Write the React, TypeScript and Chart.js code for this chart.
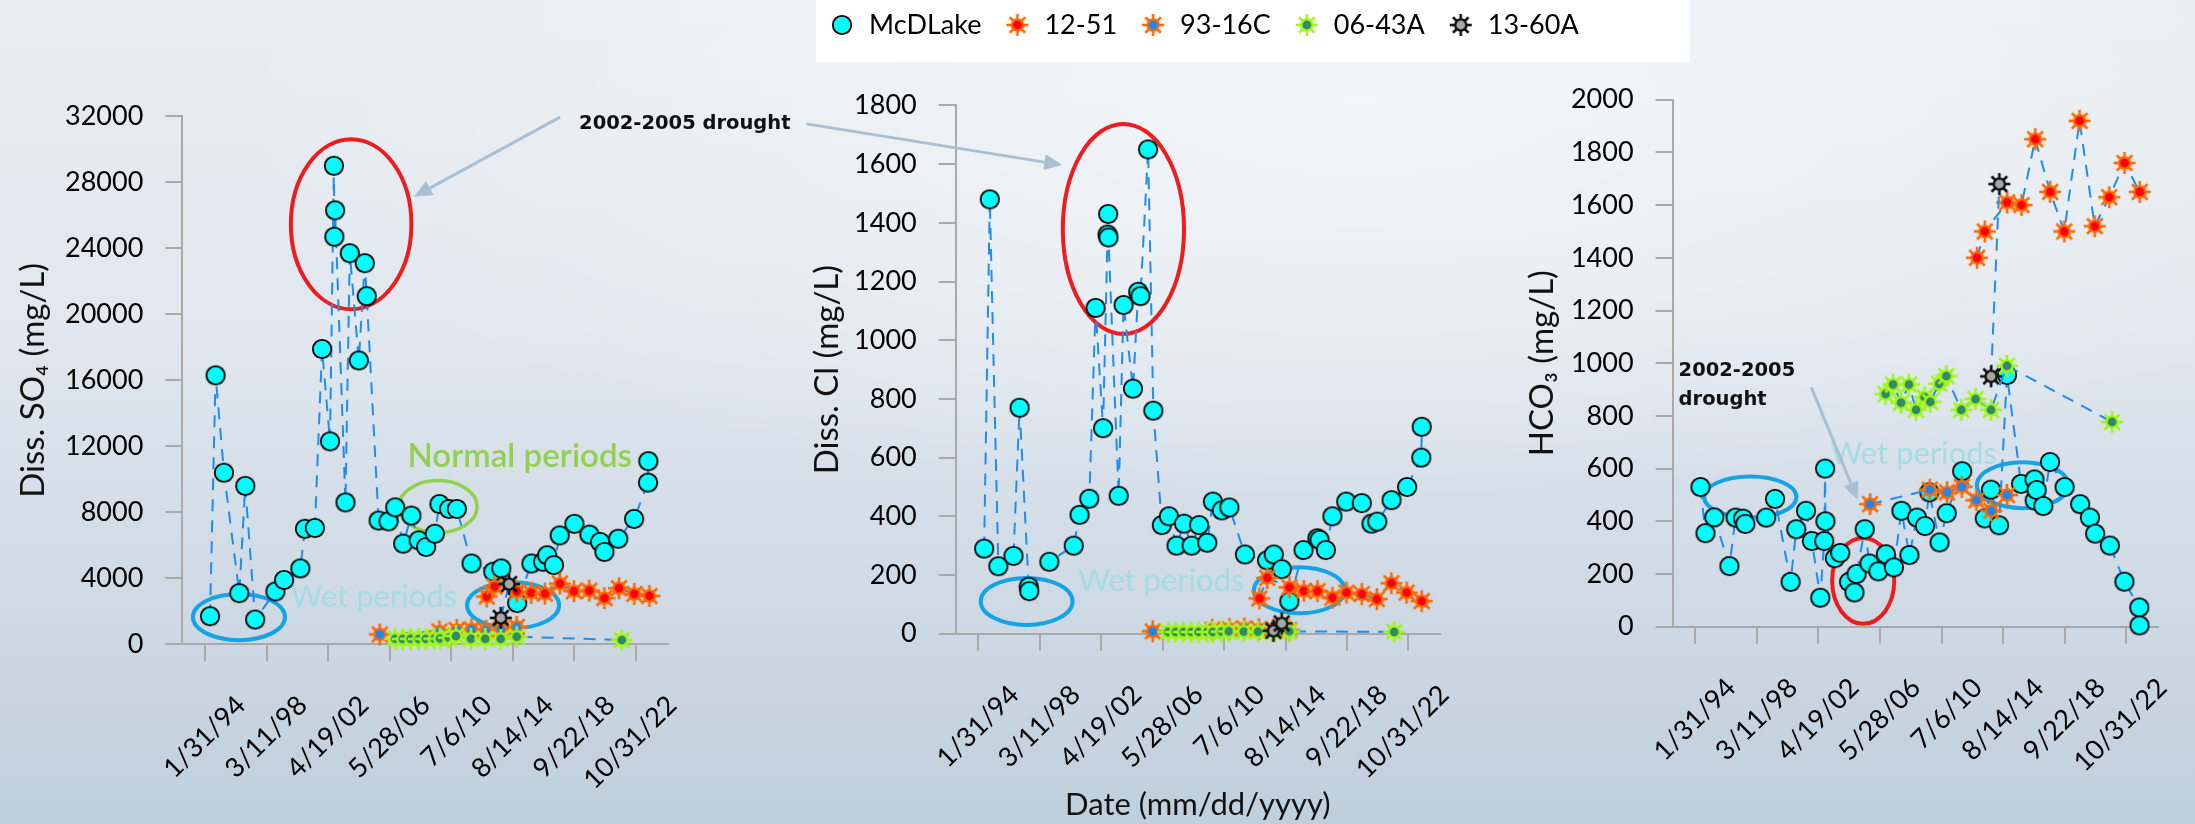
import React, { useEffect, useRef } from 'react';
import { Chart, registerables } from 'chart.js';

Chart.register(...registerables);

const W = 2195;
const H = 824;

// ---------- date axis (ticks every 1500 days) ----------
const dateTickLabels = ['1/31/94', '3/11/98', '4/19/02', '5/28/06', '7/6/10', '8/14/14', '9/22/18', '10/31/22'];
const dateTickYears = [1994.082, 1998.189, 2002.296, 2006.403, 2010.509, 2014.616, 2018.723, 2022.83];
const dateMin = 1992.57;
const dateMax = 2024.94;

// ---------- McDLake samples (decimal year / concentration) ----------
const so4Dates = [1994.42, 1994.79, 1995.35, 1996.37, 1996.77, 1997.43, 1998.78, 1999.36, 2000.44, 2000.75, 2001.41, 2001.89, 2002.42, 2002.68, 2002.71, 2002.76, 2003.45, 2003.74, 2004.34, 2004.74, 2004.87, 2005.66, 2006.32, 2006.77, 2007.3, 2007.85, 2008.33, 2008.83, 2009.41, 2009.72, 2010.36, 2010.88, 2011.86, 2013.31, 2013.84, 2014.9, 2015.85, 2016.63, 2016.9, 2017.35, 2017.74, 2018.72, 2019.72, 2020.43, 2020.72, 2021.64, 2022.7, 2023.63, 2023.65];
const so4McDLake = [1700, 16300, 10400, 3100, 9600, 1500, 3200, 3900, 4600, 7000, 7050, 17900, 12300, 29000, 24700, 26300, 8600, 23700, 17200, 23100, 21100, 7500, 7450, 8300, 6100, 7800, 6300, 5900, 6700, 8500, 8200, 8200, 4900, 4400, 4600, 2500, 4900, 5000, 5400, 4800, 6600, 7300, 6650, 6200, 5600, 6400, 7600, 9800, 11100];

const clDates = [1994.47, 1994.85, 1995.42, 1996.43, 1996.84, 1997.45, 1997.49, 1998.83, 2000.46, 2000.85, 2001.5, 2001.92, 2002.42, 2002.72, 2002.76, 2002.78, 2003.46, 2003.79, 2004.42, 2004.77, 2004.92, 2005.43, 2005.78, 2006.35, 2006.82, 2007.33, 2007.83, 2008.34, 2008.84, 2009.38, 2009.76, 2010.36, 2010.86, 2011.9, 2013.38, 2013.83, 2014.36, 2014.87, 2015.82, 2016.74, 2016.89, 2017.31, 2017.75, 2018.67, 2019.71, 2020.36, 2020.75, 2021.7, 2022.74, 2023.69, 2023.72];
const clMcDLake = [290, 1480, 230, 265, 770, 160, 145, 245, 300, 405, 460, 1110, 700, 1360, 1430, 1350, 470, 1120, 835, 1165, 1150, 1650, 760, 370, 400, 300, 375, 300, 370, 310, 450, 420, 430, 270, 250, 270, 220, 110, 285, 325, 320, 285, 400, 450, 445, 375, 382, 455, 500, 600, 705];

const hco3Dates = [1994.43, 1994.76, 1995.35, 1996.36, 1996.77, 1997.27, 1997.42, 1998.81, 1999.4, 2000.44, 2000.82, 2001.47, 2001.86, 2002.42, 2002.68, 2002.74, 2002.76, 2003.39, 2003.75, 2004.34, 2004.7, 2004.84, 2005.38, 2005.7, 2006.29, 2006.79, 2007.33, 2007.83, 2008.36, 2008.87, 2009.4, 2009.69, 2010.37, 2010.85, 2011.88, 2013.39, 2013.8, 2014.34, 2014.87, 2015.81, 2016.7, 2016.72, 2016.85, 2017.29, 2017.74, 2018.71, 2019.75, 2020.4, 2020.75, 2021.73, 2022.7, 2023.69, 2023.71];
const hco3McDLake = [530, 355, 415, 230, 414, 410, 390, 414, 485, 170, 370, 440, 325, 110, 325, 600, 400, 260, 280, 170, 130, 200, 370, 240, 210, 275, 225, 440, 272, 414, 382, 510, 320, 431, 590, 411, 520, 385, 955, 542, 559, 479, 519, 458, 625, 530, 465, 414, 353, 308, 171, 73, 5];

// ---------- well samples ----------
const well1251Dates = [2012.87, 2013.39, 2014.88, 2015.84, 2016.75, 2017.75, 2018.69, 2019.71, 2020.72, 2021.69, 2022.71, 2023.72];
const so4Well1251 = [2900, 3500, 3200, 3120, 3070, 3680, 3220, 3250, 2800, 3400, 3050, 2930];
const clWell1251 = [120, 190, 158, 146, 145, 123, 140, 135, 118, 172, 140, 111];
const hco3Well1251 = [1400, 1500, 1610, 1600, 1850, 1650, 1500, 1920, 1520, 1630, 1760, 1650];

const well9316Dates = [2005.74, 2009.72, 2010.87, 2011.86, 2012.83, 2013.82, 2014.87];
const so4Well9316 = [600, 780, 870, 900, 830, 900, 1050];
const clWell9316 = [8, 14, 16, 18, 15, 15, 12];
const hco3Well9316 = [465, 520, 510, 531, 480, 440, 500];

const well0643Dates = [2006.77, 2007.27, 2007.8, 2008.33, 2008.81, 2009.37, 2009.75, 2010.34, 2010.82, 2011.82, 2012.77, 2013.8, 2014.87, 2021.88];
const so4Well0643 = [330, 320, 330, 320, 330, 340, 350, 400, 500, 330, 330, 330, 460, 260];
const clWell0643 = [6, 6, 6, 6, 6, 6, 6, 7, 8, 7, 7, 6, 8, 6];
const hco3Well0643 = [883, 919, 850, 919, 823, 871, 853, 922, 951, 823, 864, 823, 990, 777];

const well1360Dates = [2013.81, 2014.36];
const so4Well1360 = [1600, 3650];
const clWell1360 = [10, 35];
const hco3Well1360 = [950, 1680];

// ---------- styling ----------
const FONT = 'Lato';
const LINE_BLUE = '#1f8df0';
const AXIS_GREY = '#a9a9a9';
const RING_RED = '#ee1c1c';
const RING_BLUE = '#14a4e6';
const RING_GREEN = '#92d050';
const PALE_TEAL = 'rgba(160,220,226,0.9)';
const ARROW_GREY = '#a9c0d3';
const BOLD_NOTE = 'bold 19.5px "DejaVu Sans"';
const SOFT_NOTE = '31px Lato';
const NORMAL_NOTE = '600 33px Lato';

type Ellipse = { x: number; y: number; rx: number; ry: number; color: string; width: number };
type Caption = { text: string; x: number; y: number; color: string; font: string; over?: boolean };
type Arrow = { x1: number; y1: number; x2: number; y2: number };
type Notes = { ellipses: Ellipse[]; captions: Caption[]; arrows: Arrow[] };

let markerCache: any = null;
function markers() {
  if (markerCache) return markerCache;
  const circle = document.createElement('canvas');
  circle.width = 22;
  circle.height = 22;
  const c = circle.getContext('2d')!;
  c.beginPath();
  c.arc(11, 11, 9.2, 0, Math.PI * 2);
  c.fillStyle = '#00ffff';
  c.fill();
  c.lineWidth = 1.8;
  c.strokeStyle = '#000';
  c.stroke();

  const star = (ray: string, core: string) => {
    const cv = document.createElement('canvas');
    cv.width = 26;
    cv.height = 26;
    const g = cv.getContext('2d')!;
    g.translate(13, 13);
    g.strokeStyle = ray;
    g.lineWidth = 2.6;
    for (let k = 0; k < 8; k++) {
      const a = (k * Math.PI) / 4;
      g.beginPath();
      g.moveTo(0, 0);
      g.lineTo(Math.cos(a) * 11, Math.sin(a) * 11);
      g.stroke();
    }
    g.beginPath();
    g.arc(0, 0, 6.8, 0, Math.PI * 2);
    g.fillStyle = ray;
    g.fill();
    g.beginPath();
    g.arc(0, 0, 4.4, 0, Math.PI * 2);
    g.fillStyle = core;
    g.fill();
    return cv;
  };
  markerCache = {
    mcd: circle,
    w1251: star('#ff6a00', '#ff0000'),
    w9316: star('#ff6a00', '#1f86f0'),
    w0643: star('#a2f51c', '#2e8b63'),
    w1360: star('#111111', '#a6a6a6'),
  };
  return markerCache;
}

function drawNotes(chart: any, notes: Notes, over: boolean) {
  const { ctx } = chart;
  const xs = chart.scales.x;
  const ys = chart.scales.y;
  const px = (v: number) => xs.getPixelForValue(v);
  const py = (v: number) => ys.getPixelForValue(v);
  ctx.save();
  if (!over) {
    for (const e of notes.ellipses) {
      const cx = px(e.x);
      const cy = py(e.y);
      const rx = Math.abs(px(e.x + e.rx) - cx);
      const ry = Math.abs(py(e.y + e.ry) - cy);
      ctx.beginPath();
      ctx.ellipse(cx, cy, rx, ry, 0, 0, Math.PI * 2);
      ctx.lineWidth = e.width;
      ctx.strokeStyle = e.color;
      ctx.stroke();
    }
  } else {
    for (const a of notes.arrows) {
      const x1 = px(a.x1), y1 = py(a.y1), x2 = px(a.x2), y2 = py(a.y2);
      const ang = Math.atan2(y2 - y1, x2 - x1);
      const head = 18, half = 8;
      const bx = x2 - head * Math.cos(ang);
      const by = y2 - head * Math.sin(ang);
      ctx.strokeStyle = ARROW_GREY;
      ctx.fillStyle = ARROW_GREY;
      ctx.lineWidth = 3;
      ctx.beginPath();
      ctx.moveTo(x1, y1);
      ctx.lineTo(bx, by);
      ctx.stroke();
      ctx.beginPath();
      ctx.moveTo(x2, y2);
      ctx.lineTo(bx + half * Math.sin(ang), by - half * Math.cos(ang));
      ctx.lineTo(bx - half * Math.sin(ang), by + half * Math.cos(ang));
      ctx.closePath();
      ctx.fill();
    }
  }
  for (const t of notes.captions) {
    if (!!t.over !== over) continue;
    ctx.font = t.font;
    ctx.fillStyle = t.color;
    ctx.textAlign = 'left';
    ctx.textBaseline = 'middle';
    ctx.fillText(t.text, px(t.x), py(t.y));
  }
  ctx.restore();
}

function notesPlugin(notes: Notes) {
  return {
    id: 'panelNotes',
    beforeDatasetsDraw(chart: any) {
      drawNotes(chart, notes, false);
    },
    afterDatasetsDraw(chart: any) {
      drawNotes(chart, notes, true);
    },
  };
}

type PanelSpec = {
  yTitle: string;
  yMax: number;
  yStep: number;
  mcdDates: number[];
  mcdValues: number[];
  v1251: number[];
  v9316: number[];
  v0643: number[];
  v1360: number[];
  frameLeft: number;
  area: { left: number; right: number; top: number; bottom: number };
  yTitleCenter: number;
  xTitle?: string;
  notes: Notes;
};

const pairs = (xs: number[], ys: number[]) => xs.map((x, i) => ({ x, y: ys[i] }));

const panels: PanelSpec[] = [
  {
    yTitle: 'Diss. SO\u2084 (mg/L)',
    yMax: 32000,
    yStep: 4000,
    mcdDates: so4Dates,
    mcdValues: so4McDLake,
    v1251: so4Well1251,
    v9316: so4Well9316,
    v0643: so4Well0643,
    v1360: so4Well1360,
    frameLeft: 0,
    area: { left: 182.3, right: 667.7, top: 116.3, bottom: 644.3 },
    yTitleCenter: 33.6,
    notes: {
      ellipses: [
        { x: 2003.83, y: 25460, rx: 4.02, ry: 5150, color: RING_RED, width: 4 },
        { x: 1996.35, y: 1650, rx: 3.07, ry: 1400, color: RING_BLUE, width: 4 },
        { x: 2014.63, y: 2370, rx: 3.07, ry: 1394, color: RING_BLUE, width: 4 },
        { x: 2009.62, y: 8343, rx: 2.61, ry: 1580, color: RING_GREEN, width: 3.5 },
      ],
      captions: [
        { text: 'Wet periods', x: 1999.79, y: 2890, color: PALE_TEAL, font: SOFT_NOTE },
        { text: 'Normal periods', x: 2007.59, y: 11364, color: RING_GREEN, font: NORMAL_NOTE },
        { text: '2002-2005 drought', x: 2019.03, y: 31533, color: '#111', font: BOLD_NOTE, over: true },
      ],
      arrows: [{ x1: 2017.76, y1: 31952, x2: 2008.02, y2: 27127 }],
    },
  },
  {
    yTitle: 'Diss. Cl (mg/L)',
    yMax: 1800,
    yStep: 200,
    mcdDates: clDates,
    mcdValues: clMcDLake,
    v1251: clWell1251,
    v9316: clWell9316,
    v0643: clWell0643,
    v1360: clWell1360,
    frameLeft: 780,
    area: { left: 955.7, right: 1440, top: 105.4, bottom: 633.7 },
    yTitleCenter: 827,
    xTitle: 'Date (mm/dd/yyyy)',
    notes: {
      ellipses: [
        { x: 2003.78, y: 1379, rx: 4.05, ry: 358, color: RING_RED, width: 4 },
        { x: 1997.31, y: 110, rx: 3.07, ry: 80, color: RING_BLUE, width: 4 },
        { x: 2015.54, y: 148, rx: 3.04, ry: 78.5, color: RING_BLUE, width: 4 },
      ],
      captions: [{ text: 'Wet periods', x: 2000.74, y: 180, color: PALE_TEAL, font: SOFT_NOTE }],
      arrows: [{ x1: 1982.6, y1: 1737, x2: 1999.69, y2: 1597 }],
    },
  },
  {
    yTitle: 'HCO\u2083 (mg/L)',
    yMax: 2000,
    yStep: 200,
    mcdDates: hco3Dates,
    mcdValues: hco3McDLake,
    v1251: hco3Well1251,
    v9316: hco3Well9316,
    v0643: hco3Well0643,
    v1360: hco3Well1360,
    frameLeft: 1500,
    area: { left: 1672.6, right: 2158, top: 99.7, bottom: 626.7 },
    yTitleCenter: 1542,
    notes: {
      ellipses: [
        { x: 1997.75, y: 492, rx: 3.08, ry: 78, color: RING_BLUE, width: 4 },
        { x: 2005.28, y: 174, rx: 2.07, ry: 163, color: RING_RED, width: 4 },
        { x: 2015.92, y: 537, rx: 3.06, ry: 87, color: RING_BLUE, width: 4 },
      ],
      captions: [
        { text: 'Wet periods', x: 2003.1, y: 654, color: PALE_TEAL, font: SOFT_NOTE },
        { text: '2002-2005', x: 1992.97, y: 970, color: '#111', font: BOLD_NOTE, over: true },
        { text: 'drought', x: 1992.97, y: 860, color: '#111', font: BOLD_NOTE, over: true },
      ],
      arrows: [{ x1: 2001.82, y1: 908, x2: 2004.92, y2: 481 }],
    },
  },
];

function buildConfig(spec: PanelSpec): any {
  const m = markers();
  const line = {
    showLine: true,
    borderColor: LINE_BLUE,
    borderWidth: 2,
    borderDash: [12, 9],
    backgroundColor: 'transparent',
    clip: false,
    pointRadius: 9,
    tension: 0,
  };
  const datasets = [
    { label: 'McDLake', data: pairs(spec.mcdDates, spec.mcdValues), pointStyle: m.mcd, order: 5, ...line },
    { label: '12-51', data: pairs(well1251Dates, spec.v1251), pointStyle: m.w1251, order: 4, ...line },
    { label: '93-16C', data: pairs(well9316Dates, spec.v9316), pointStyle: m.w9316, order: 3, ...line },
    { label: '06-43A', data: pairs(well0643Dates, spec.v0643), pointStyle: m.w0643, order: 2, ...line },
    { label: '13-60A', data: pairs(well1360Dates, spec.v1360), pointStyle: m.w1360, order: 1, ...line },
  ];
  const a = spec.area;
  const tickFont = { family: FONT, size: 27 };
  const titleFontSize = 33;
  return {
    type: 'scatter',
    data: { datasets },
    options: {
      responsive: false,
      maintainAspectRatio: false,
      animation: false,
      devicePixelRatio: 1,
      events: [],
      layout: { padding: { left: spec.frameLeft, right: W - a.right, top: a.top, bottom: 0 } },
      plugins: { legend: { display: false }, tooltip: { enabled: false } },
      scales: {
        x: {
          type: 'linear',
          min: dateMin,
          max: dateMax,
          afterBuildTicks: (s: any) => {
            s.ticks = dateTickYears.map((v) => ({ value: v }));
          },
          afterFit: (s: any) => {
            s.height = H - a.bottom;
          },
          ticks: {
            autoSkip: false,
            minRotation: 45,
            maxRotation: 45,
            labelOffset: 36,
            padding: 28,
            font: tickFont,
            color: '#000',
            callback: (_v: any, i: number) => dateTickLabels[i],
          },
          grid: { drawOnChartArea: false, drawTicks: true, tickLength: 17, color: AXIS_GREY, lineWidth: 2 },
          border: { display: true, color: AXIS_GREY, width: 2 },
          title: spec.xTitle
            ? { display: true, text: spec.xTitle, font: { family: FONT, size: 31 }, color: '#111', padding: { top: 0, bottom: 0 } }
            : { display: false },
        },
        y: {
          min: 0,
          max: spec.yMax,
          afterFit: (s: any) => {
            s.width = a.left - spec.frameLeft;
          },
          ticks: {
            stepSize: spec.yStep,
            padding: 22,
            font: tickFont,
            color: '#000',
            callback: (v: any) => String(v),
          },
          grid: { drawOnChartArea: false, drawTicks: true, tickLength: 17, color: AXIS_GREY, lineWidth: 2 },
          border: { display: true, color: AXIS_GREY, width: 2 },
          title: {
            display: true,
            text: spec.yTitle,
            font: { family: FONT, size: titleFontSize },
            color: '#111',
            padding: { top: spec.yTitleCenter - spec.frameLeft - (titleFontSize * 1.2) / 2, bottom: 0 },
          },
        },
      },
    },
    plugins: [notesPlugin(spec.notes)],
  };
}

function Panel({ spec }: { spec: PanelSpec }) {
  const ref = useRef<HTMLCanvasElement>(null);
  useEffect(() => {
    const chart = new Chart(ref.current as HTMLCanvasElement, buildConfig(spec));
    return () => chart.destroy();
  }, [spec]);
  return (
    <canvas
      ref={ref}
      width={W}
      height={H}
      style={{ position: 'absolute', left: 0, top: 0, width: W, height: H }}
    />
  );
}

function LegendStrip() {
  const ref = useRef<HTMLCanvasElement>(null);
  useEffect(() => {
    const m = markers();
    const entries: [string, HTMLCanvasElement][] = [
      ['McDLake', m.mcd],
      ['12-51', m.w1251],
      ['93-16C', m.w9316],
      ['06-43A', m.w0643],
      ['13-60A', m.w1360],
    ];
    const chart = new Chart(ref.current as HTMLCanvasElement, {
      type: 'scatter',
      data: { datasets: [] },
      options: {
        responsive: false,
        animation: false,
        devicePixelRatio: 1,
        events: [],
        scales: { x: { display: false }, y: { display: false } },
        plugins: {
          tooltip: { enabled: false },
          legend: {
            display: true,
            position: 'top',
            align: 'start',
            labels: {
              usePointStyle: true,
              boxWidth: 27,
              padding: 22.5,
              color: '#000',
              font: { family: FONT, size: 27 },
              generateLabels: () =>
                entries.map(([text, img], i) => ({
                  text,
                  pointStyle: img,
                  fillStyle: 'rgba(0,0,0,0)',
                  strokeStyle: 'rgba(0,0,0,0)',
                  lineWidth: 0,
                  hidden: false,
                  datasetIndex: i,
                })),
            },
          },
        },
      } as any,
    });
    return () => chart.destroy();
  }, []);
  return (
    <div style={{ position: 'absolute', left: 816, top: 0, width: 874, height: 62, background: '#ffffff', overflow: 'hidden' }}>
      <canvas ref={ref} width={900} height={200} style={{ position: 'absolute', left: -10, top: -11, width: 900, height: 200 }} />
    </div>
  );
}

export default function App() {
  return (
    <div
      style={{
        position: 'fixed',
        left: 0,
        top: 0,
        width: W,
        height: H,
        overflow: 'hidden',
        background:
          'radial-gradient(ellipse 75% 70% at 62% 12%, rgba(255,255,255,0.55) 0%, rgba(255,255,255,0) 70%), linear-gradient(180deg, #e8edf2 0%, #e0e7ee 40%, #cfdae5 72%, #bfcfdc 100%)',
      }}
    >
      {panels.map((p, i) => (
        <Panel key={i} spec={p} />
      ))}
      <LegendStrip />
    </div>
  );
}
